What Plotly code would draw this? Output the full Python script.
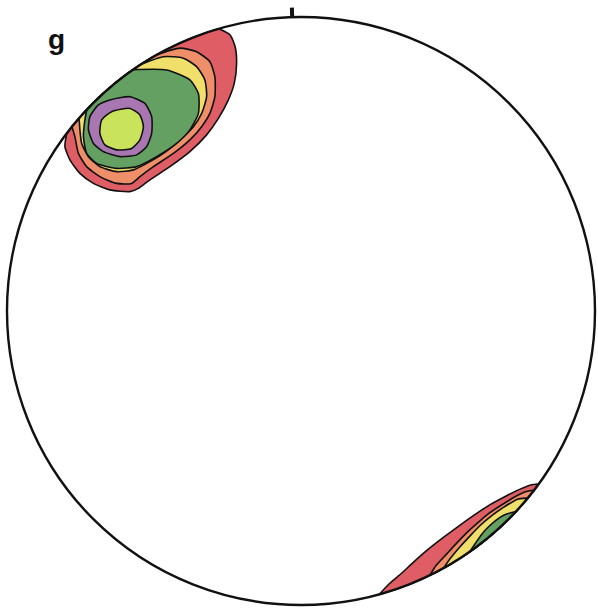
import numpy as np
import plotly.graph_objects as go

# Equal-area net, radius 100 net units; contours of pole density.
NET_RADIUS = 100

# Contour colours, lowest to highest density
COLORS = {
    "c1": "#df5d64",  # red
    "c2": "#ef8f6a",  # salmon
    "c3": "#f1df6c",  # yellow
    "c4": "#63a062",  # green
    "c5": "#a877b1",  # purple
    "c6": "#c9e35c",  # lime
}

# --- NW maximum: open contours end on the primitive circle ---
nw_c1_x = [-27.6, -24.1, -22.4, -21.9, -22.7, -24.7, -28.1, -32.1, -37.8, -44.6,
           -51.4, -55.3, -58.2, -65.0, -70.6, -75.2, -78.6, -80.3, -79.7]
nw_c1_y = [95.8, 93.9, 89.9, 84.3, 77.4, 71.8, 65.5, 59.9, 54.2, 49.1,
           44.6, 41.7, 40.6, 41.2, 43.4, 46.8, 51.4, 55.9, 60.4]

nw_c2_x = [-49.0, -41.2, -35.5, -31.0, -29.3, -29.3, -31.0, -33.8, -37.8, -43.4,
           -50.2, -54.8, -57.6, -62.7, -68.4, -72.9, -75.7, -76.9, -77.9]
nw_c2_y = [87.2, 89.4, 88.2, 84.8, 79.7, 72.9, 67.2, 62.7, 58.2, 53.6,
           49.1, 45.7, 43.4, 43.4, 45.7, 49.1, 53.6, 59.3, 62.7]

nw_c3_x = [-54.2, -46.8, -40.0, -35.5, -32.7, -32.1, -33.8, -36.6, -41.2, -46.8,
           -52.5, -57.0, -62.7, -68.4, -72.3, -74.6, -75.2, -75.5]
nw_c3_y = [84.0, 86.5, 86.0, 83.1, 78.6, 72.9, 67.2, 62.7, 58.2, 53.6,
           50.2, 48.0, 47.4, 49.1, 52.5, 57.0, 61.6, 65.5]

nw_c4_x = [-57.0, -45.7, -37.8, -34.9, -34.9, -37.8, -42.3, -49.1, -55.9, -62.7,
           -69.5, -72.9, -74.0, -73.5, -72.8]
nw_c4_y = [82.1, 82.0, 78.6, 74.0, 67.2, 61.6, 57.0, 52.5, 49.1, 48.5,
           50.2, 53.6, 59.3, 65.0, 68.6]

# closed contours inside the net
nw_c5_x = [-65.0, -58.2, -53.1, -50.8, -50.8, -52.5, -55.9, -61.6, -67.2, -70.6,
           -72.3, -71.8, -68.9]
nw_c5_y = [71.8, 72.9, 70.6, 66.1, 60.4, 55.9, 53.1, 52.5, 54.2, 57.0,
           61.6, 66.1, 70.1]

nw_c6_x = [-64.4, -58.2, -54.8, -53.6, -54.8, -57.6, -62.7, -66.7, -68.4, -67.8]
nw_c6_y = [67.8, 68.9, 66.7, 62.7, 58.2, 55.3, 54.8, 56.5, 60.4, 65.0]

# --- SE maximum ---
se_c1_x = [26.6, 30.1, 34.2, 38.1, 43.1, 48.2, 53.3, 58.5, 63.9, 69.8, 74.7, 78.5, 80.9]
se_c1_y = [-96.4, -92.7, -89.2, -85.6, -81.2, -77.2, -73.4, -69.7, -66.1, -62.9,
           -60.5, -59.1, -58.8]

se_c2_x = [43.8, 46.0, 49.6, 53.1, 56.6, 60.3, 64.1, 68.2, 72.8, 76.1, 79.3]
se_c2_y = [-89.9, -86.5, -82.6, -78.8, -75.2, -71.9, -68.7, -66.0, -63.2, -61.6, -60.9]

se_c3_x = [48.5, 50.7, 54.1, 57.6, 61.1, 64.9, 69.0, 73.7, 77.2]
se_c3_y = [-87.5, -84.3, -80.2, -76.4, -72.8, -69.6, -66.7, -64.0, -63.6]

se_c4_x = [57.4, 59.4, 61.5, 63.8, 66.4, 69.3, 73.1]
se_c4_y = [-81.9, -78.9, -75.9, -73.4, -71.1, -69.3, -68.2]

# north mark above the net
north_x = [-3.0, -3.1]
north_y = [100.0, 103.2]

panel_label = "g"


def close_on_circle(xs, ys, n=60):
    """Close an open contour by running back along the primitive circle."""
    a_start = np.arctan2(ys[0], xs[0])
    a_end = np.arctan2(ys[-1], xs[-1])
    arc = np.linspace(a_end, a_start, n)
    return (list(xs) + list(NET_RADIUS * np.cos(arc)),
            list(ys) + list(NET_RADIUS * np.sin(arc)))


def closed(xs, ys):
    return list(xs) + [xs[0]], list(ys) + [ys[0]]


fig = go.Figure()

layers = [
    (close_on_circle(nw_c1_x, nw_c1_y), "c1"),
    (close_on_circle(nw_c2_x, nw_c2_y), "c2"),
    (close_on_circle(nw_c3_x, nw_c3_y), "c3"),
    (close_on_circle(nw_c4_x, nw_c4_y), "c4"),
    (closed(nw_c5_x, nw_c5_y), "c5"),
    (closed(nw_c6_x, nw_c6_y), "c6"),
    (close_on_circle(se_c1_x, se_c1_y), "c1"),
    (close_on_circle(se_c2_x, se_c2_y), "c2"),
    (close_on_circle(se_c3_x, se_c3_y), "c3"),
    (close_on_circle(se_c4_x, se_c4_y), "c4"),
]

for (xs, ys), key in layers:
    fig.add_trace(go.Scatter(
        x=xs, y=ys, mode="lines", fill="toself",
        fillcolor=COLORS[key],
        line=dict(color="#111111", width=1.6, shape="spline", smoothing=0.6),
        hoverinfo="skip", showlegend=False,
    ))

# primitive circle
fig.add_shape(type="circle", x0=-NET_RADIUS, y0=-NET_RADIUS,
              x1=NET_RADIUS, y1=NET_RADIUS,
              line=dict(color="#111111", width=2.4), layer="above")

fig.add_trace(go.Scatter(x=north_x, y=north_y, mode="lines",
                         line=dict(color="#111111", width=4),
                         hoverinfo="skip", showlegend=False))

fig.add_annotation(x=-83.3, y=92.4, text=f"<b>{panel_label}</b>",
                   showarrow=False, xanchor="center", yanchor="middle",
                   font=dict(family="Liberation Sans, Arial", size=28, color="#111111"))

fig.update_xaxes(range=[-102.38, 101.02], visible=False, fixedrange=True)
fig.update_yaxes(range=[-101.02, 105.78], visible=False, fixedrange=True)
fig.update_layout(width=598, height=608, margin=dict(l=0, r=0, t=0, b=0),
                  paper_bgcolor="white", plot_bgcolor="white")

fig.write_html("out.html")
